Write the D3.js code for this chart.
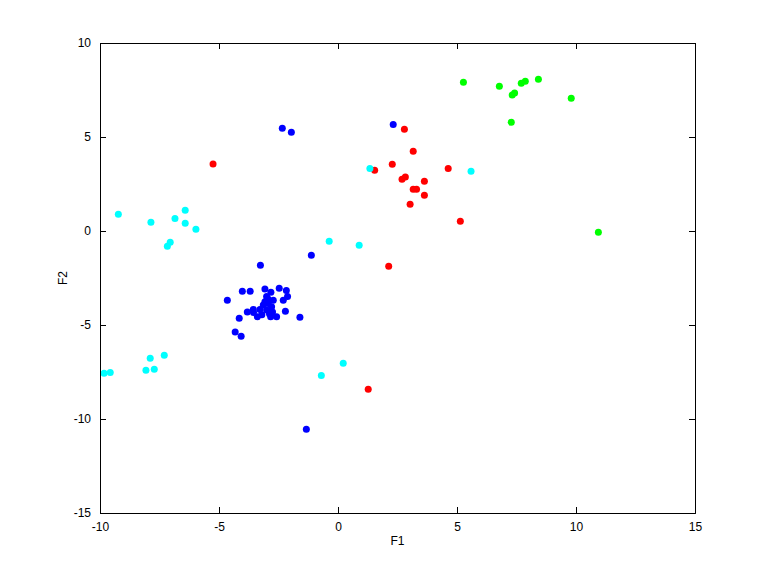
<!DOCTYPE html>
<html>
<head>
<meta charset="utf-8">
<script src="https://cdn.jsdelivr.net/npm/d3@7"></script>
<style>
  body { margin: 0; background: #fff; }
  text { font-family: "Liberation Sans", Arial, sans-serif; font-size: 12px; }
</style>
</head>
<body>
<svg id="chart" width="768" height="576"></svg>
<script>
// tick values
const xTicks = [-10, -5, 0, 5, 10, 15];
const yTicks = [-15, -10, -5, 0, 5, 10];

// class 1 (blue)
const blueX = [-2.34, -1.96, 2.32, -1.12, -1.33, -3.26, -4.02, -3.69, -4.65, -3.07, -2.82, -2.47, -2.17, -2.12,
  -2.30, -2.72, -3.00, -2.93, -3.14, -2.79, -3.00, -3.28, -3.56, -3.81, -3.39, -2.75, -2.83, -2.58, -2.21,
  -1.60, -4.15, -4.32, -4.07, -3.55, -3.07, -2.95, -2.88, -3.20];
const blueY = [5.46, 5.25, 5.67, -1.29, -10.55, -1.82, -3.21, -3.21, -3.69, -3.09, -3.26, -3.05, -3.16, -3.48,
  -3.69, -3.69, -3.49, -3.85, -3.94, -4.03, -4.20, -4.17, -4.17, -4.31, -4.56, -4.31, -4.56, -4.56, -4.27,
  -4.59, -4.64, -5.37, -5.60, -4.34, -3.76, -3.60, -4.40, -4.45];

// class 2 (red)
const redX = [2.79, 3.16, 2.28, 1.54, 4.63, 2.83, 2.69, 3.63, 3.16, 3.30, 3.63, 3.03, 5.14, -5.25, 2.13, 1.27];
const redY = [5.41, 4.24, 3.55, 3.23, 3.33, 2.87, 2.75, 2.64, 2.22, 2.22, 1.90, 1.42, 0.52, 3.56, -1.88, -8.42];

// class 3 (green)
const greenX = [5.27, 6.78, 7.70, 7.87, 8.42, 7.32, 7.42, 9.80, 7.28, 10.94];
const greenY = [7.91, 7.70, 7.86, 7.96, 8.07, 7.23, 7.34, 7.06, 5.78, -0.07];

// class 4 (cyan)
const cyanX = [-9.23, -7.86, -6.85, -6.42, -6.42, -5.97, -7.05, -7.17, -9.83, -9.57, -8.07, -7.72, -7.89, -7.30,
  -0.37, 0.89, 1.34, 5.59, 0.22, -0.70];
const cyanY = [0.89, 0.46, 0.67, 1.10, 0.41, 0.09, -0.60, -0.81, -7.57, -7.52, -7.41, -7.36, -6.77, -6.61,
  -0.55, -0.76, 3.33, 3.18, -7.04, -7.68];

const groups = [
  { xs: blueX, ys: blueY, color: "#0000ff" },
  { xs: redX, ys: redY, color: "#ff0000" },
  { xs: greenX, ys: greenY, color: "#00ff00" },
  { xs: cyanX, ys: cyanY, color: "#00ffff" }
];

const svg = d3.select("#chart");
const plotL = 100, plotR = 695, plotT = 43, plotB = 513;

const x = d3.scaleLinear().domain([-10, 15]).range([plotL, plotR]);
const y = d3.scaleLinear().domain([-15, 10]).range([plotB, plotT]);

// points
groups.forEach(g => {
  svg.append("g")
    .selectAll("circle")
    .data(g.xs.map((v, i) => [v, g.ys[i]]))
    .join("circle")
    .attr("cx", d => x(d[0]))
    .attr("cy", d => y(d[1]))
    .attr("r", 3.5)
    .attr("fill", g.color);
});

// plain hyphen for negatives, like the original
const fmt = d => String(d);

// axes, ticks pointing inward like matlab
const tickLen = 6;
svg.append("g")
  .attr("transform", `translate(0,${plotB})`)
  .call(d3.axisBottom(x).tickValues(xTicks).tickSize(-tickLen).tickPadding(9).tickFormat(fmt));
svg.append("g")
  .attr("transform", `translate(${plotL},0)`)
  .call(d3.axisLeft(y).tickValues(yTicks).tickSize(-tickLen).tickPadding(9).tickFormat(fmt));
svg.append("g")
  .attr("transform", `translate(0,${plotT})`)
  .call(d3.axisTop(x).tickValues(xTicks).tickSize(-tickLen).tickFormat(""));
svg.append("g")
  .attr("transform", `translate(${plotR},0)`)
  .call(d3.axisRight(y).tickValues(yTicks).tickSize(-tickLen).tickFormat(""));

svg.selectAll(".domain").attr("stroke", "#000");
svg.selectAll(".tick line").attr("stroke", "#000");
svg.selectAll(".tick text").attr("fill", "#000").style("font-size", "12px")
  .style("font-family", "'Liberation Sans', Arial, sans-serif");

// axis labels
svg.append("text")
  .attr("x", (plotL + plotR) / 2)
  .attr("y", 545)
  .attr("text-anchor", "middle")
  .text("F1");

svg.append("text")
  .attr("transform", `translate(67,${(plotT + plotB) / 2}) rotate(-90)`)
  .attr("text-anchor", "middle")
  .text("F2");
</script>
</body>
</html>
